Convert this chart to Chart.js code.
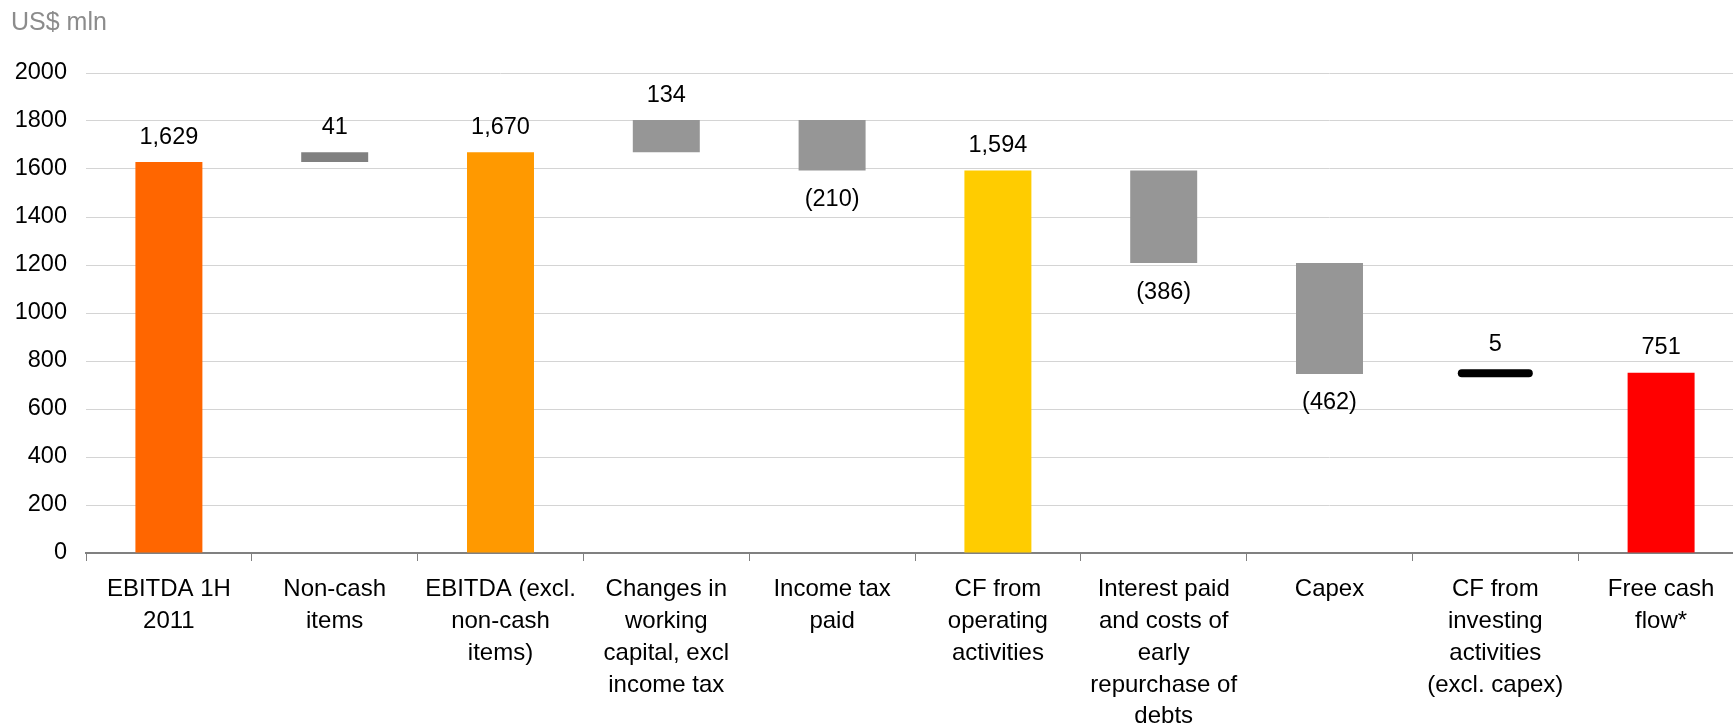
<!DOCTYPE html>
<html>
<head>
<meta charset="utf-8">
<script src="https://cdn.jsdelivr.net/npm/chart.js@4"></script>
<style>
  html, body { margin: 0; padding: 0; background: #fff; overflow: hidden; }
  #wrap { position: relative; width: 1744px; height: 724px; }
  #wasserfall { position: absolute; left: 0; top: 0; }
  #einheit {
    position: absolute; left: 11px; top: 9px;
    font: 25px "Liberation Sans", Arial, sans-serif; line-height: 1;
    color: #8c8c8c;
  }
</style>
</head>
<body>
<div id="wrap">
  <canvas id="wasserfall" width="1744" height="724"></canvas>
  <div id="einheit">US$ mln</div>
</div>
<script>
// Kategorien (mehrzeilig wie auf der Achse)
const kategorien = [
  ["EBITDA 1H", "2011"],
  ["Non-cash", "items"],
  ["EBITDA (excl.", "non-cash", "items)"],
  ["Changes in", "working", "capital, excl", "income tax"],
  ["Income tax", "paid"],
  ["CF from", "operating", "activities"],
  ["Interest paid", "and costs of", "early", "repurchase of", "debts"],
  ["Capex"],
  ["CF from", "investing", "activities", "(excl. capex)"],
  ["Free cash", "flow*"]
];

// Beträge in US$ mln; "summe" = Zwischensumme ab 0, "delta" = Veränderung
const betraege = [1629, 41, 1670, 134, -210, 1594, -386, -462, 5, 751];
const arten = ["summe", "delta", "summe", "delta", "delta", "summe", "delta", "delta", "delta", "summe"];

const farben = ["#FF6600", "#808080", "#FF9900", "#969696", "#969696", "#FFCC00", "#969696", "#969696", "#000000", "#FF0000"];

// Schwimmende Balken aus den Beträgen aufbauen
let laufend = 0;
const balken = betraege.map((b, i) => {
  if (arten[i] === "summe") {
    laufend = b;
    return [0, b];
  }
  const start = laufend;
  laufend += b;
  return [start, laufend];
});

function formatiere(wert) {
  const s = Math.abs(wert).toLocaleString("en-US");
  return wert < 0 ? "(" + s + ")" : s;
}

const schrift = '"Liberation Sans", Arial, sans-serif';

// Beschriftungen über bzw. unter den Balken; kleiner Posten als dicke Linie
const wertePlugin = {
  id: "werte",
  afterDatasetsDraw(chart) {
    const ctx = chart.ctx;
    const meta = chart.getDatasetMeta(0);
    ctx.save();
    meta.data.forEach((el, i) => {
      const oben = Math.min(el.y, el.base);
      const unten = Math.max(el.y, el.base);
      if (Math.abs(betraege[i]) < 20) {
        ctx.strokeStyle = "#000";
        ctx.lineWidth = 8;
        ctx.lineCap = "round";
        const mitte = (oben + unten) / 2;
        ctx.beginPath();
        ctx.moveTo(el.x - el.width / 2, mitte);
        ctx.lineTo(el.x + el.width / 2, mitte);
        ctx.stroke();
      }
      ctx.fillStyle = "#000";
      ctx.font = "23.5px " + schrift;
      ctx.textAlign = "center";
      ctx.textBaseline = "middle";
      const text = formatiere(betraege[i]);
      if (betraege[i] < 0) {
        ctx.fillText(text, el.x, unten + 29);
      } else {
        const abstand = Math.abs(betraege[i]) < 20 ? 28 : 25;
        ctx.fillText(text, el.x, oben - abstand);
      }
    });
    ctx.restore();
  }
};

const ctx = document.getElementById("wasserfall").getContext("2d");
new Chart(ctx, {
  type: "bar",
  data: {
    labels: kategorien,
    datasets: [{
      data: balken,
      backgroundColor: farben,
      borderWidth: 0,
      categoryPercentage: 1.0,
      barPercentage: 0.404
    }]
  },
  options: {
    responsive: false,
    animation: false,
    devicePixelRatio: 1,
    layout: { padding: { top: 73, right: 0, left: 0, bottom: 0 } },
    plugins: {
      legend: { display: false },
      tooltip: { enabled: false }
    },
    scales: {
      x: {
        grid: {
          offset: true,
          drawOnChartArea: false,
          drawTicks: true,
          tickLength: 8,
          color: "#808080",
          lineWidth: 1
        },
        border: { color: "#808080", width: 2 },
        ticks: {
          color: "#000",
          padding: 13,
          maxRotation: 0,
          autoSkip: false,
          font: { family: schrift, size: 24, lineHeight: 1.32 }
        },
        afterFit(scale) { scale.height = 171; }
      },
      y: {
        min: 0,
        max: 2000,
        grid: { color: "#d4d4d4", lineWidth: 1, drawTicks: false },
        border: { display: false },
        ticks: {
          stepSize: 200,
          color: "#000",
          padding: 19,
          font: { family: schrift, size: 23.5 },
          callback: (wert) => String(wert)
        },
        afterFit(scale) { scale.width = 86; }
      }
    }
  },
  plugins: [wertePlugin]
});
</script>
</body>
</html>
